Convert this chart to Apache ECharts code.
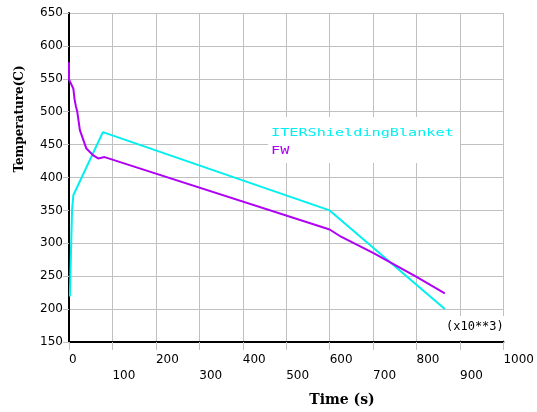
<!DOCTYPE html>
<html>
<head>
<meta charset="utf-8">
<script src="https://cdn.jsdelivr.net/npm/echarts@6/dist/echarts.min.js"></script>
<style>html,body{margin:0;padding:0;background:#fff;}#c{width:537px;height:412px;}</style>
</head>
<body>
<div id="c"></div>
<script>
// ---- data ----
const seriesNames = ['ITERShieldingBlanket', 'FW'];
const blanketTime = [2, 7, 10, 78, 600, 865];
const blanketTemp = [219, 351, 373, 469, 350, 200];
const fwTime = [0, 0, 4, 10, 13, 16, 19, 25, 40, 55, 67, 82, 600, 626, 701, 800, 865];
const fwTemp = [575, 549, 547, 535, 518, 508, 500, 472, 444, 434, 429, 431, 321, 310, 285, 249, 224];
const xTickLabels = ['0','100','200','300','400','500','600','700','800','900','1000'];
const yTickLabels = ['150','200','250','300','350','400','450','500','550','600','650'];
const xTitle = 'Time (s)';
const yTitle = 'Temperature(C)';
const scaleNote = '(x10**3)';
const colors = ['#00f0f0', '#b000f5'];

const pairs = (xs, ys) => xs.map((x, i) => [x, ys[i]]);

const chart = echarts.init(document.getElementById('c'), null, {renderer: 'canvas'});
chart.setOption({
  animation: false,
  backgroundColor: '#fff',
  grid: {left: 69, top: 13, right: 30, bottom: 70, containLabel: false},
  xAxis: {
    type: 'value', min: 0, max: 1000, interval: 100,
    axisLine: {show: true, onZero: false, lineStyle: {color: '#000', width: 2}},
    axisTick: {show: true, length: 8, lineStyle: {color: '#c0c0c0', width: 1}},
    splitLine: {show: true, lineStyle: {color: '#c0c0c0', width: 1}},
    axisLabel: {
      margin: 10, align: 'left', verticalAlign: 'top', lineHeight: 16,
      fontFamily: 'DejaVu Sans', fontSize: 12, color: '#000',
      showMinLabel: true, showMaxLabel: true,
      formatter: (v) => { const i = Math.round(v / 100); return i % 2 ? '\n' + xTickLabels[i] : xTickLabels[i]; }
    }
  },
  yAxis: {
    type: 'value', min: 150, max: 650, interval: 50,
    axisLine: {show: true, onZero: false, lineStyle: {color: '#000', width: 2}},
    axisTick: {show: true, length: 6, lineStyle: {color: '#c0c0c0', width: 1}},
    splitLine: {show: true, lineStyle: {color: '#c0c0c0', width: 1}},
    axisLabel: {
      margin: 6, fontFamily: 'DejaVu Sans', fontSize: 12, color: '#000',
      padding: [0, 0, 5, 0],
      showMinLabel: true, showMaxLabel: true,
      formatter: (v) => yTickLabels[Math.round((v - 150) / 50)]
    }
  },
  series: [
    {name: seriesNames[0], type: 'line', data: pairs(blanketTime, blanketTemp), showSymbol: false,
     lineStyle: {color: colors[0], width: 2}, itemStyle: {color: colors[0]}, z: 3},
    {name: seriesNames[1], type: 'line', data: pairs(fwTime, fwTemp), showSymbol: false,
     lineStyle: {color: colors[1], width: 2}, itemStyle: {color: colors[1]}, z: 4}
  ],
  graphic: [
    {type: 'rect', z: 1, shape: {x: 268, y: 117, width: 192, height: 46}, style: {fill: '#fff'}},
    {type: 'text', z: 10, x: 271, y: 133, scaleX: 1.38, scaleY: 1,
     style: {text: seriesNames[0], fill: colors[0], font: '11px "DejaVu Sans Mono"', textVerticalAlign: 'middle'}},
    {type: 'text', z: 10, x: 271, y: 151, scaleX: 1.38, scaleY: 1,
     style: {text: seriesNames[1], fill: colors[1], font: '11px "DejaVu Sans Mono"', textVerticalAlign: 'middle'}},
    {type: 'rect', z: 1, shape: {x: 444, y: 316, width: 62, height: 24}, style: {fill: '#fff'}},
    {type: 'text', z: 10, x: 446, y: 327,
     style: {text: scaleNote, fill: '#000', font: '12px "DejaVu Sans Mono"', textVerticalAlign: 'middle'}},
    {type: 'text', z: 10, x: 342, y: 400,
     style: {text: xTitle, fill: '#000', font: 'bold 14px "DejaVu Serif"', textAlign: 'center', textVerticalAlign: 'middle'}},
    {type: 'text', z: 10, x: 20, y: 119, rotation: Math.PI / 2,
     style: {text: yTitle, fill: '#000', font: 'bold 12px "DejaVu Serif"', textAlign: 'center', textVerticalAlign: 'middle'}}
  ]
});
</script>
</body>
</html>
